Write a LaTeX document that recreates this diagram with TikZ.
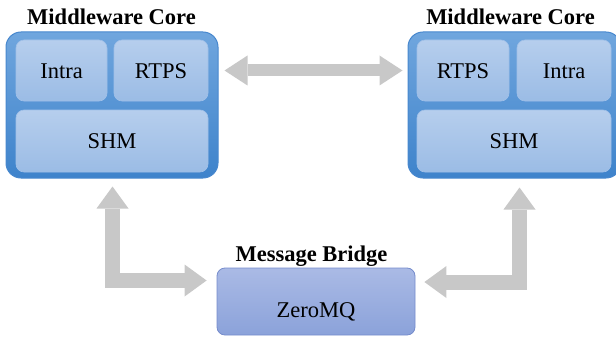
\documentclass[tikz,border=0pt]{standalone}
\usepackage{fontspec}
\setmainfont{Liberation Serif}
\usetikzlibrary{arrows.meta}
\definecolor{coretop}{RGB}{112,166,222}
\definecolor{corebot}{RGB}{62,131,203}
\definecolor{coreline}{RGB}{72,136,206}
\definecolor{intop}{RGB}{182,206,237}
\definecolor{inbot}{RGB}{155,188,229}
\definecolor{inline}{RGB}{160,192,232}
\definecolor{brtop}{RGB}{170,186,229}
\definecolor{brbot}{RGB}{139,162,218}
\definecolor{brline}{RGB}{118,140,204}
\definecolor{arrowgray}{RGB}{200,200,200}
\tikzset{
  txt/.style={font=\fontsize{22.5}{27}\selectfont},
  title/.style={font=\fontsize{22.5}{27}\selectfont\bfseries, anchor=base, inner sep=0pt},
  corebox/.style={draw=coreline, line width=1pt, top color=coretop, bottom color=corebot, rounded corners=15pt, inner sep=0pt},
  innerbox/.style={draw=inline, line width=0.6pt, top color=intop, bottom color=inbot, rounded corners=8pt, inner sep=0pt, txt, text height=15pt, text depth=0pt},
  bridgebox/.style={draw=brline, line width=0.8pt, top color=brtop, bottom color=brbot, rounded corners=8pt, inner sep=0pt, txt, text height=31pt, text depth=0pt},
  blockarrow/.style={draw=arrowgray, line width=15pt, line join=miter,
    {Triangle[length=22pt,width=32pt,line width=0pt]}-{Triangle[length=22pt,width=32pt,line width=0pt]}},
  wideblock/.style={draw=arrowgray, line width=12pt,
    {Triangle[length=23pt,width=30pt,line width=0pt]}-{Triangle[length=23pt,width=30pt,line width=0pt]}}
}
\begin{document}
\begin{tikzpicture}[x=1pt,y=-1pt]
\clip (0,0) rectangle (616,337);
% left core
\node[corebox, minimum width=212pt, minimum height=146pt] (lcore) at (112,105) {};
\node[title] (ltitle) at (111.5,25) {Middleware Core};
\node[innerbox, minimum width=91pt, minimum height=61pt] (lintra) at (61.5,70.5) {Intra};
\node[innerbox, minimum width=94pt, minimum height=61pt] (lrtps) at (161,70.5) {RTPS};
\node[innerbox, minimum width=192pt, minimum height=62pt] (lshm) at (112,141) {SHM};
% right core
\node[corebox, minimum width=213pt, minimum height=146pt] (rcore) at (514.5,105) {};
\node[title] (rtitle) at (510.5,25) {Middleware Core};
\node[innerbox, minimum width=92pt, minimum height=61pt] (rrtps) at (463,70.5) {RTPS};
\node[innerbox, minimum width=94pt, minimum height=61pt] (rintra) at (564,70.5) {Intra};
\node[innerbox, minimum width=194pt, minimum height=62pt] (rshm) at (514,141) {SHM};
% bridge
\node[bridgebox, minimum width=198pt, minimum height=67pt] (bridge) at (316,301.5) {ZeroMQ};
\node[title] (btitle) at (311.5,261) {Message Bridge};
% connectors
\coordinate (lel) at (112.5,280.5);
\coordinate (rel) at (519.5,282);
\draw[wideblock, shorten <=6pt, shorten >=5pt] (lcore.east |- lintra.center) -- (rcore.west |- rrtps.center);
\draw[blockarrow, shorten <=8pt, shorten >=10pt] (lcore.south -| lel) |- (bridge.west |- lel);
\draw[blockarrow, shorten <=9pt, shorten >=9pt] (rcore.south -| rel) |- (bridge.east |- rel);
\end{tikzpicture}
\end{document}
